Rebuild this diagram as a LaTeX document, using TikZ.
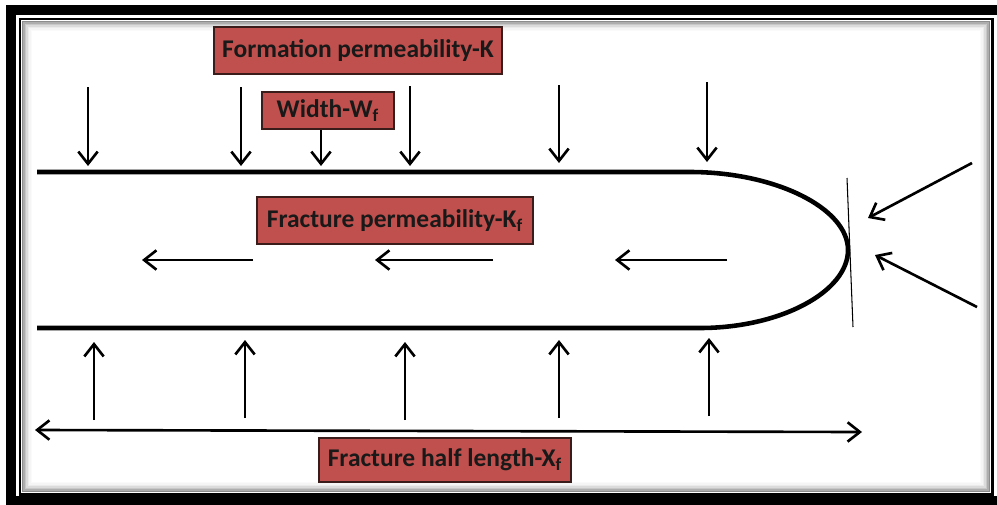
\documentclass[tikz,border=0pt]{standalone}
\usepackage{fontspec}
\setmainfont{Carlito}
\usetikzlibrary{arrows.meta}
\definecolor{boxred}{HTML}{C0504D}
\definecolor{boxline}{HTML}{3A1C1B}

\begin{document}
\begin{tikzpicture}[x=0.02cm, y=-0.02cm,
    flow/.style = {line width=1.5pt, -{Straight Barb[length=7pt,width=11pt,line width=1.5pt]}},
    dflow/.style = {line width=1.5pt, {Straight Barb[length=7pt,width=11pt,line width=1.5pt]}-{Straight Barb[length=7pt,width=11pt,line width=1.5pt]}},
    tagbox/.style = {draw=boxline, fill=boxred, line width=0.8pt, inner sep=0pt, text centered,
                     font=\bfseries\fontsize{14.5}{16}\selectfont, text=black!90}]
    \useasboundingbox (0,0) rectangle (997,504);

    % frame with inner shadow
    \draw[line width=5.5pt] (11,10) rectangle (1006,501);
    \foreach \i/\c in {1/45,2/32,3/22,4/14,5/8,6/4,7/2}
        \draw[black!\c, line width=0.9pt] (21+1.5*\i,20+1.5*\i) rectangle (991-1.5*\i,493-1.5*\i);
    \draw[line width=1.7pt] (20,19) rectangle (992,494);

    % labels
    \node[tagbox, minimum width=5.76cm, minimum height=0.94cm] (formk) at (358,50.5) {Formation permeability-K};
    \node[tagbox, minimum width=2.64cm, minimum height=0.74cm] (widthw) at (328,110.5) {Width-W\textsubscript{f}};
    \node[tagbox, minimum width=5.52cm, minimum height=0.94cm] (frack) at (395,220.5) {Fracture permeability-K\textsubscript{f}};
    \node[tagbox, minimum width=5.04cm, minimum height=0.88cm] (halfx) at (445,460) {Fracture half length-X\textsubscript{f}};

    % fracture outline
    \draw[line width=2.6pt] (37,172) -- (690,172) .. controls (775,172) and (848,208) .. (848,250)
        .. controls (848,292) and (780,328) .. (700,328) -- (37,328);
    \coordinate (tipa) at (847,178);
    \coordinate (tipb) at (853,327);
    \draw[line width=0.6pt] (tipa) -- (tipb);

    % flow from formation, upper side
    \foreach \x/\t/\h in {88/87/166, 241/87/166, 410/86/166, 559/85/163, 707/82/162} {
        \coordinate (dtop\x) at (\x,\t);
        \coordinate (dtip\x) at (\x,\h);
        \draw[flow] (dtop\x) -- (dtip\x);
    }
    \coordinate (wtip) at (321,166);
    \draw[flow] (widthw.south -| wtip) -- (wtip);

    % flow from formation, lower side
    \foreach \x/\t/\h in {94/420/342, 245/418/340, 405/420/342, 559/418/340, 709/416/338} {
        \coordinate (utop\x) at (\x,\t);
        \coordinate (utip\x) at (\x,\h);
        \draw[flow] (utop\x) -- (utip\x);
    }

    % flow along the fracture
    \foreach \t/\h in {253/142, 493/375, 727/615} {
        \coordinate (ft\t) at (\t,260);
        \coordinate (fh\t) at (\h,260);
        \draw[flow] (ft\t) -- (fh\t);
    }

    % flow into the tip
    \coordinate (ra) at (972,163);
    \coordinate (rah) at (868,218);
    \coordinate (rb) at (977,307);
    \coordinate (rbh) at (875,255);
    \draw[flow] (ra) -- (rah);
    \draw[flow] (rb) -- (rbh);

    % half length
    \coordinate (xl) at (35,430);
    \coordinate (xr) at (862,432);
    \draw[dflow] (xl) -- (xr);
\end{tikzpicture}
\end{document}
